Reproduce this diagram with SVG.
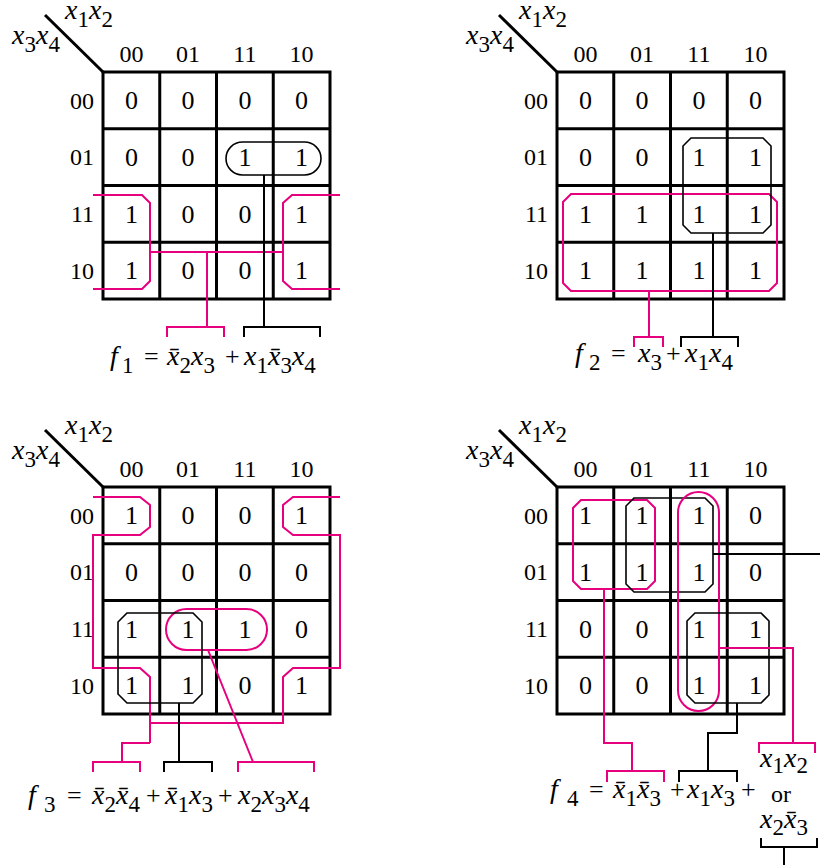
<svg xmlns="http://www.w3.org/2000/svg" width="820" height="865" viewBox="0 0 820 865">
<style>
.grid{fill:none;stroke:#000;stroke-width:3}
.diag{stroke:#000;stroke-width:3}
.t{font-family:"Liberation Serif",serif;font-size:24px;fill:#000}
.val{text-anchor:middle;font-size:26px}
.rl{text-anchor:end}
.v{font-style:italic;font-size:28px}
.s{font-size:23px}
.op{font-size:26px}
.mg{fill:none;stroke:#e6007e;stroke-width:2}
.bk{fill:none;stroke:#000;stroke-width:1.6}
.bkc{fill:none;stroke:#000;stroke-width:2}
</style>
<defs>
<path id="grid" class="grid" d="M0,0H227V227H0Z M56.75,0V227 M113.5,0V227 M170.25,0V227 M0,56.75H227 M0,113.5H227 M0,170.25H227"/>
<g id="hdr">
<use href="#grid"/>
<line class="diag" x1="-58" y1="-57" x2="0" y2="0"/>
<text class="t" x="-38" y="-53"><tspan class="v">x</tspan><tspan class="s" dy="8">1</tspan><tspan class="v" dy="-8">x</tspan><tspan class="s" dy="8">2</tspan></text>
<text class="t" x="-91" y="-28"><tspan class="v">x</tspan><tspan class="s" dy="8">3</tspan><tspan class="v" dy="-8">x</tspan><tspan class="s" dy="8">4</tspan></text>
<text class="t" y="-10" text-anchor="middle"><tspan x="28.4">00</tspan><tspan x="85.1">01</tspan><tspan x="141.9">11</tspan><tspan x="198.6">10</tspan></text>
<text class="t rl" x="-9" y="36.5">00</text>
<text class="t rl" x="-9" y="93.2">01</text>
<text class="t rl" x="-9" y="150">11</text>
<text class="t rl" x="-9" y="206.7">10</text>
</g>
</defs>

<g id="map-f1" transform="translate(103,72)">
<use href="#hdr"/>
<text class="t val" y="37"><tspan x="28.4">0</tspan><tspan x="85.1">0</tspan><tspan x="141.9">0</tspan><tspan x="198.6">0</tspan></text>
<text class="t val" y="93.7"><tspan x="28.4">0</tspan><tspan x="85.1">0</tspan><tspan x="141.9">1</tspan><tspan x="198.6">1</tspan></text>
<text class="t val" y="150.5"><tspan x="28.4">1</tspan><tspan x="85.1">0</tspan><tspan x="141.9">0</tspan><tspan x="198.6">1</tspan></text>
<text class="t val" y="207.2"><tspan x="28.4">1</tspan><tspan x="85.1">0</tspan><tspan x="141.9">0</tspan><tspan x="198.6">1</tspan></text>
</g>

<g id="map-f2" transform="translate(557,72)">
<use href="#hdr"/>
<text class="t val" y="37"><tspan x="28.4">0</tspan><tspan x="85.1">0</tspan><tspan x="141.9">0</tspan><tspan x="198.6">0</tspan></text>
<text class="t val" y="93.7"><tspan x="28.4">0</tspan><tspan x="85.1">0</tspan><tspan x="141.9">1</tspan><tspan x="198.6">1</tspan></text>
<text class="t val" y="150.5"><tspan x="28.4">1</tspan><tspan x="85.1">1</tspan><tspan x="141.9">1</tspan><tspan x="198.6">1</tspan></text>
<text class="t val" y="207.2"><tspan x="28.4">1</tspan><tspan x="85.1">1</tspan><tspan x="141.9">1</tspan><tspan x="198.6">1</tspan></text>
</g>

<g id="map-f3" transform="translate(103,487)">
<use href="#hdr"/>
<text class="t val" y="37"><tspan x="28.4">1</tspan><tspan x="85.1">0</tspan><tspan x="141.9">0</tspan><tspan x="198.6">1</tspan></text>
<text class="t val" y="93.7"><tspan x="28.4">0</tspan><tspan x="85.1">0</tspan><tspan x="141.9">0</tspan><tspan x="198.6">0</tspan></text>
<text class="t val" y="150.5"><tspan x="28.4">1</tspan><tspan x="85.1">1</tspan><tspan x="141.9">1</tspan><tspan x="198.6">0</tspan></text>
<text class="t val" y="207.2"><tspan x="28.4">1</tspan><tspan x="85.1">1</tspan><tspan x="141.9">0</tspan><tspan x="198.6">1</tspan></text>
</g>

<g id="map-f4" transform="translate(557,487)">
<use href="#hdr"/>
<text class="t val" y="37"><tspan x="28.4">1</tspan><tspan x="85.1">1</tspan><tspan x="141.9">1</tspan><tspan x="198.6">0</tspan></text>
<text class="t val" y="93.7"><tspan x="28.4">1</tspan><tspan x="85.1">1</tspan><tspan x="141.9">1</tspan><tspan x="198.6">0</tspan></text>
<text class="t val" y="150.5"><tspan x="28.4">0</tspan><tspan x="85.1">0</tspan><tspan x="141.9">1</tspan><tspan x="198.6">1</tspan></text>
<text class="t val" y="207.2"><tspan x="28.4">0</tspan><tspan x="85.1">0</tspan><tspan x="141.9">1</tspan><tspan x="198.6">1</tspan></text>
</g>

<g id="loops">
<path class="mg" d="M93,195H142L150,203V281L142,289H93"/>
<path class="mg" d="M340,195H292L283,203V281L292,289H340"/>
<rect class="bk" x="226" y="142" width="95" height="33" rx="16.5"/>
<path class="mg" d="M571,194H769L777,202V283L769,291H571L563,283V202Z"/>
<path class="bk" d="M691,138H763L771,146V225L763,233H691L683,225V146Z"/>
<path class="mg" d="M93,497H140L150,505V527L140,535H93V668H140L150,677V743"/>
<path class="mg" d="M150,723H283V677L293,668H340V535H293L283,527V505L293,497H340"/>
<rect class="mg" x="166" y="609" width="101" height="41" rx="20.5"/>
<path class="bk" d="M127,613H193L202,622V694L193,703H127L118,694V622Z"/>
<path class="mg" d="M581,500H647L655,508V581L647,589H581L573,581V508Z"/>
<path class="bk" d="M634,498H705L713,506V584L705,592H634L626,584V506Z"/>
<rect class="mg" x="678" y="492" width="41" height="219" rx="20.5"/>
<path class="bk" d="M695,613H761L769,621V695L761,703H695L687,695V621Z"/>
</g>

<g id="connectors">
<path class="mg" d="M150,252H283 M207,252V327 M167,337V327H224V337"/>
<path class="bkc" d="M264,175V327 M244,337V327H320V337"/>
<path class="mg" d="M649,291V337 M634,347V337H663V347"/>
<path class="bkc" d="M713,233V337 M681,347V337H738V347"/>
<path class="mg" d="M150,743H122V762 M93,772V762H140V772"/>
<path class="mg" d="M208,650L253,762 M238,772V762H314V772"/>
<path class="bkc" d="M179,703V762 M164,772V762H212V772"/>
<path class="mg" d="M604,589V743H632V771 M607,782V771H664V782"/>
<path class="bkc" d="M737,703V733H708V771 M679,782V771H737V782"/>
<path class="mg" d="M718,648H793V743 M759,753V743H815V753"/>
<path class="bkc" d="M713,554H820"/>
<path class="bkc" d="M761,838V847H817V838 M784,847V865"/>
</g>

<g id="expr-f1">
<text class="t" y="365"><tspan class="v" x="110">f</tspan><tspan class="s" x="122" dy="8">1</tspan><tspan class="op" x="144" dy="-8">=</tspan></text>
<text class="t" y="365" x="167"><tspan class="v">x̄</tspan><tspan class="s" dy="8">2</tspan><tspan class="v" dy="-8">x</tspan><tspan class="s" dy="8">3</tspan></text>
<text class="t op" y="365" x="225">+</text>
<text class="t" y="365" x="244"><tspan class="v">x</tspan><tspan class="s" dy="8">1</tspan><tspan class="v" dy="-8">x̄</tspan><tspan class="s" dy="8">3</tspan><tspan class="v" dy="-8">x</tspan><tspan class="s" dy="8">4</tspan></text>
</g>

<g id="expr-f2">
<text class="t" y="362"><tspan class="v" x="575">f</tspan><tspan class="s" x="589" dy="8">2</tspan><tspan class="op" x="611" dy="-8">=</tspan></text>
<text class="t" y="362" x="638"><tspan class="v">x</tspan><tspan class="s" dy="8">3</tspan></text>
<text class="t op" y="362" x="666">+</text>
<text class="t" y="362" x="685"><tspan class="v">x</tspan><tspan class="s" dy="8">1</tspan><tspan class="v" dy="-8">x</tspan><tspan class="s" dy="8">4</tspan></text>
</g>

<g id="expr-f3">
<text class="t" y="804"><tspan class="v" x="28">f</tspan><tspan class="s" x="44" dy="8">3</tspan><tspan class="op" x="67" dy="-8">=</tspan></text>
<text class="t" y="804" x="92"><tspan class="v">x̄</tspan><tspan class="s" dy="8">2</tspan><tspan class="v" dy="-8">x̄</tspan><tspan class="s" dy="8">4</tspan></text>
<text class="t op" y="804" x="146">+</text>
<text class="t" y="804" x="165"><tspan class="v">x̄</tspan><tspan class="s" dy="8">1</tspan><tspan class="v" dy="-8">x</tspan><tspan class="s" dy="8">3</tspan></text>
<text class="t op" y="804" x="218">+</text>
<text class="t" y="804" x="238"><tspan class="v">x</tspan><tspan class="s" dy="8">2</tspan><tspan class="v" dy="-8">x</tspan><tspan class="s" dy="8">3</tspan><tspan class="v" dy="-8">x</tspan><tspan class="s" dy="8">4</tspan></text>
</g>

<g id="expr-f4">
<text class="t" y="798"><tspan class="v" x="550">f</tspan><tspan class="s" x="567" dy="8">4</tspan><tspan class="op" x="589" dy="-8">=</tspan></text>
<text class="t" y="798" x="613"><tspan class="v">x̄</tspan><tspan class="s" dy="8">1</tspan><tspan class="v" dy="-8">x̄</tspan><tspan class="s" dy="8">3</tspan></text>
<text class="t op" y="798" x="670">+</text>
<text class="t" y="798" x="687"><tspan class="v">x</tspan><tspan class="s" dy="8">1</tspan><tspan class="v" dy="-8">x</tspan><tspan class="s" dy="8">3</tspan></text>
<text class="t op" y="798" x="741">+</text>
<text class="t" y="767" x="760"><tspan class="v">x</tspan><tspan class="s" dy="6">1</tspan><tspan class="v" dy="-6">x</tspan><tspan class="s" dy="6">2</tspan></text>
<text class="t" y="802" x="771">or</text>
<text class="t" y="828" x="760"><tspan class="v">x</tspan><tspan class="s" dy="7">2</tspan><tspan class="v" dy="-7">x̄</tspan><tspan class="s" dy="7">3</tspan></text>
</g>
</svg>
